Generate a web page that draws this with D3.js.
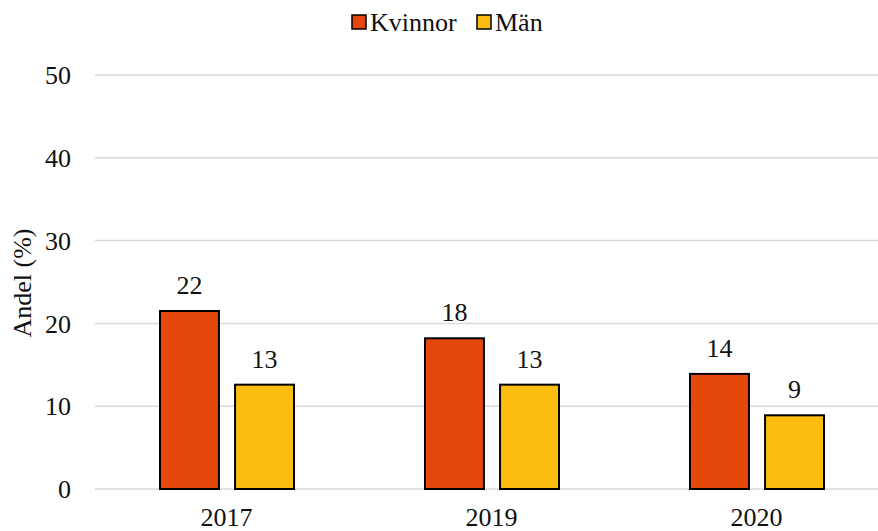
<!DOCTYPE html>
<html>
<head>
<meta charset="utf-8">
<script src="https://cdn.jsdelivr.net/npm/d3@7"></script>
<style>
  body { margin: 0; background: #fff; }
  text { font-family: "Liberation Serif", "Times New Roman", "DejaVu Serif", serif; fill: #111; }
</style>
</head>
<body>
<div class="chart"></div>
<script>
// data
let years = ["2017", "2019", "2020"];
let series = ["Kvinnor", "Män"];
let kvinnor = [21.5, 18.2, 13.9];
let man = [12.6, 12.6, 8.9];
let labels = { Kvinnor: ["22", "18", "14"], Män: ["13", "13", "9"] };
let yTicks = [0, 10, 20, 30, 40, 50];
let colors = { Kvinnor: "#E5470C", Män: "#FDBD10" };

let svgWidth = 878, svgHeight = 531;
let margin = { top: 75, left: 95 };
let width = 795, height = 414;
let fs = "26px";

let svg = d3.select(".chart")
  .append("svg")
  .attr("width", svgWidth)
  .attr("height", svgHeight);

let g = svg.append("g")
  .attr("transform", "translate(" + margin.left + "," + margin.top + ")");

let x = d3.scaleBand()
  .domain(years)
  .range([0, width]);

let x1 = d3.scaleBand()
  .domain(series)
  .range([65, 199])
  .paddingInner(0.215);

let y = d3.scaleLinear()
  .domain([0, 50])
  .range([height, 0]);

// gridlines
g.selectAll(".grid")
  .data(yTicks)
  .enter().append("line")
  .attr("x1", 0)
  .attr("x2", width)
  .attr("y1", d => y(d))
  .attr("y2", d => y(d))
  .attr("stroke", "#d9d9d9")
  .attr("stroke-width", 1.5);

// y tick labels
g.selectAll(".ytick")
  .data(yTicks)
  .enter().append("text")
  .attr("x", -24)
  .attr("y", d => y(d))
  .attr("dy", "0.35em")
  .attr("text-anchor", "end")
  .style("font-size", fs)
  .text(d => d);

// y axis title
svg.append("text")
  .attr("transform", "translate(31,283) rotate(-90)")
  .attr("text-anchor", "middle")
  .style("font-size", fs)
  .text("Andel (%)");

// bars
let rows = years.map((yr, i) => ({ year: yr, Kvinnor: kvinnor[i], Män: man[i], i: i }));

let groups = g.selectAll(".year")
  .data(rows)
  .enter().append("g")
  .attr("transform", d => "translate(" + x(d.year) + ",0)");

groups.selectAll("rect")
  .data(d => series.map(s => ({ key: s, value: d[s], i: d.i })))
  .enter().append("rect")
  .attr("x", d => x1(d.key))
  .attr("width", x1.bandwidth())
  .attr("y", d => y(d.value))
  .attr("height", d => y(0) - y(d.value))
  .attr("fill", d => colors[d.key])
  .attr("stroke", "#000")
  .attr("stroke-width", 2);

groups.selectAll(".lbl")
  .data(d => series.map(s => ({ key: s, value: d[s], i: d.i })))
  .enter().append("text")
  .attr("x", d => x1(d.key) + x1.bandwidth() / 2)
  .attr("y", d => y(d.value) - 17)
  .attr("text-anchor", "middle")
  .style("font-size", fs)
  .text(d => labels[d.key][d.i]);

// x labels (bottom edge is tight, as in the original)
g.selectAll(".xtick")
  .data(years)
  .enter().append("text")
  .attr("x", d => x(d) + x.bandwidth() / 2 - 1)
  .attr("y", height + 37)
  .attr("text-anchor", "middle")
  .style("font-size", fs)
  .text(d => d);

// legend
let legend = svg.append("g");
let legendX = [352, 477];
series.forEach(function (s, i) {
  legend.append("rect")
    .attr("x", legendX[i])
    .attr("y", 15)
    .attr("width", 14)
    .attr("height", 14)
    .attr("fill", colors[s])
    .attr("stroke", "#000")
    .attr("stroke-width", 1.5);
  legend.append("text")
    .attr("x", legendX[i] + 18)
    .attr("y", 22)
    .attr("dy", "0.35em")
    .style("font-size", fs)
    .text(s);
});
</script>
</body>
</html>
